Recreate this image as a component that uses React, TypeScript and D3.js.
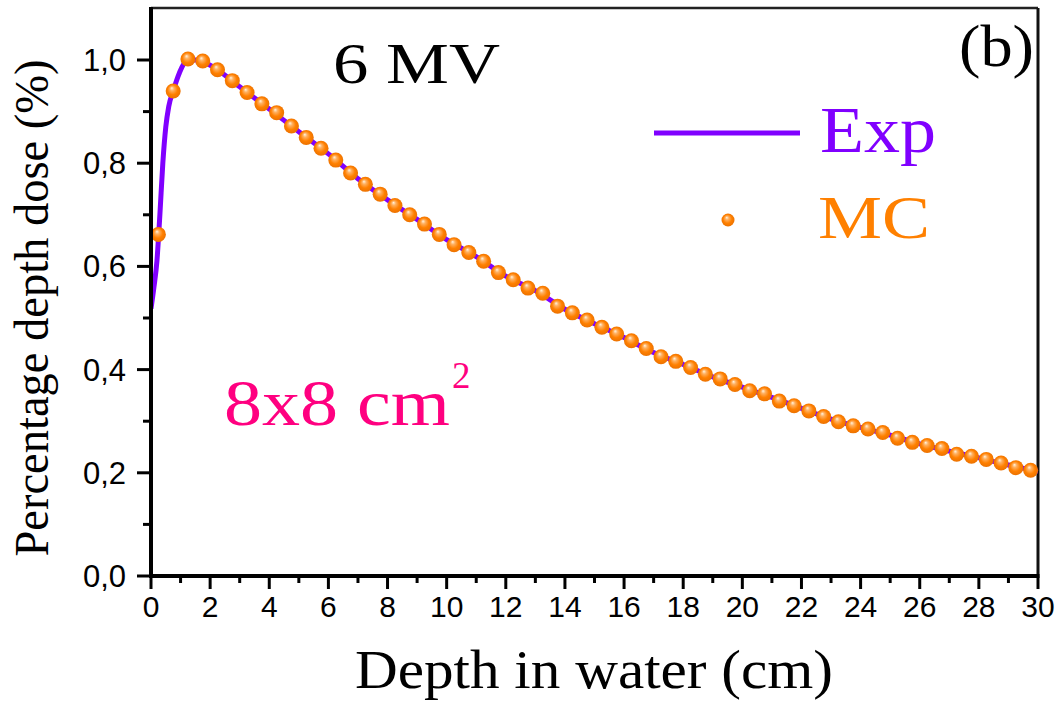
import React from "react";
import * as d3 from "d3";

// ---- data ----
const mcDepth = [0.25, 0.75, 1.25, 1.75, 2.25, 2.75, 3.25, 3.75, 4.25, 4.75, 5.25, 5.75, 6.25, 6.75, 7.25, 7.75, 8.25, 8.75, 9.25, 9.75,
  10.25, 10.75, 11.25, 11.75, 12.25, 12.75, 13.25, 13.75, 14.25, 14.75, 15.25, 15.75, 16.25, 16.75, 17.25, 17.75, 18.25, 18.75, 19.25, 19.75,
  20.25, 20.75, 21.25, 21.75, 22.25, 22.75, 23.25, 23.75, 24.25, 24.75, 25.25, 25.75, 26.25, 26.75, 27.25, 27.75, 28.25, 28.75, 29.25, 29.75];
const mcDose = [0.662, 0.940, 1.002, 0.998, 0.981, 0.960, 0.937, 0.915, 0.898, 0.872, 0.850, 0.829, 0.806, 0.781, 0.759, 0.740, 0.718, 0.700, 0.682, 0.662,
  0.642, 0.627, 0.610, 0.588, 0.574, 0.558, 0.548, 0.523, 0.510, 0.496, 0.482, 0.469, 0.456, 0.441, 0.425, 0.416, 0.404, 0.391, 0.382, 0.371,
  0.359, 0.353, 0.339, 0.330, 0.320, 0.309, 0.299, 0.291, 0.285, 0.278, 0.267, 0.259, 0.253, 0.247, 0.236, 0.232, 0.226, 0.219, 0.210, 0.205];

const expDepth = [0, 0.1, 0.2, 0.3, 0.4, 0.5, 0.6, 0.75, 0.96, 1.2, 1.5, 2, 3, 4, 5, 6, 7, 8, 9, 10, 11, 12, 13, 14, 15,
  16, 17, 18, 19, 20, 21, 22, 23, 24, 25, 26, 27, 28, 29, 30];
const expDose = [0.518, 0.56, 0.61, 0.70, 0.80, 0.87, 0.91, 0.94, 0.975, 0.998, 1.0, 0.99, 0.948, 0.905, 0.861, 0.818, 0.770, 0.729, 0.691, 0.652, 0.619, 0.581, 0.553, 0.517, 0.489,
  0.462, 0.433, 0.410, 0.386, 0.366, 0.346, 0.325, 0.304, 0.288, 0.273, 0.256, 0.242, 0.229, 0.215, 0.203];

const xMajorTicks = [0, 2, 4, 6, 8, 10, 12, 14, 16, 18, 20, 22, 24, 26, 28, 30];
const xMinorTicks = [1, 3, 5, 7, 9, 11, 13, 15, 17, 19, 21, 23, 25, 27, 29];
const yMajorTicks = [0, 0.2, 0.4, 0.6, 0.8, 1.0];
const yMinorTicks = [0.1, 0.3, 0.5, 0.7, 0.9];
const yTickLabels = ["0,0", "0,2", "0,4", "0,6", "0,8", "1,0"];

const PURPLE = "#8000ff";
const ORANGE = "#ff8000";
const PINK = "#ff0080";

export default function App() {
  const left = 151, right = 1038, top = 8, bottom = 576;
  const x = d3.scaleLinear().domain([0, 30]).range([left, right]);
  const y = d3.scaleLinear().domain([0, 1.1]).range([bottom, bottom - 1.1 * 516]);

  const expPts = expDepth.map((d, i) => [d, expDose[i]] as [number, number]);
  const line = d3.line<[number, number]>().x(d => x(d[0])).y(d => y(d[1])).curve(d3.curveMonotoneX);

  const tickFont = "'Liberation Sans', Arial, sans-serif";
  const serif = "'Liberation Serif', 'Times New Roman', serif";

  return (
    <svg width={1062} height={702} style={{ position: "absolute", left: 0, top: 0, background: "#fff" }}>
      <defs>
        <radialGradient id="ball" cx="0.5" cy="0.5" r="0.55" fx="0.4" fy="0.3">
          <stop offset="0" stopColor="#fff4e0" />
          <stop offset="0.25" stopColor="#ffb060" />
          <stop offset="0.6" stopColor={ORANGE} />
          <stop offset="1" stopColor="#e86f00" />
        </radialGradient>
        <clipPath id="plotclip">
          <rect x={left} y={top} width={right - left} height={bottom - top} />
        </clipPath>
      </defs>
      <rect x={0} y={0} width={1062} height={702} fill="#fff" />

      {/* frame top/right */}
      <line x1={left} x2={right} y1={top} y2={top} stroke="#222" strokeWidth={2.5} />
      <line x1={right} x2={right} y1={top} y2={bottom} stroke="#111" strokeWidth={3} />

      {/* exp line */}
      <path d={line(expPts) || ""} fill="none" stroke={PURPLE} strokeWidth={5} clipPath="url(#plotclip)" />

      {/* MC markers */}
      {mcDepth.map((d, i) => (
        <circle key={i} cx={x(d)} cy={y(mcDose[i])} r={7.5} fill="url(#ball)" />
      ))}

      {/* axes */}
      <line x1={left} x2={left} y1={top - 1} y2={bottom + 2} stroke="#000" strokeWidth={4} />
      <line x1={left - 2} x2={right + 1.5} y1={bottom} y2={bottom} stroke="#000" strokeWidth={4} />

      {xMajorTicks.map(t => (
        <g key={"xM" + t}>
          <line x1={x(t)} x2={x(t)} y1={bottom} y2={bottom + 13} stroke="#000" strokeWidth={3} />
          <text x={x(t)} y={617} textAnchor="middle" fontFamily={tickFont} fontSize={30}>{t}</text>
        </g>
      ))}
      {xMinorTicks.map(t => (
        <line key={"xm" + t} x1={x(t)} x2={x(t)} y1={bottom} y2={bottom + 7} stroke="#000" strokeWidth={3} />
      ))}
      {yMajorTicks.map((t, i) => (
        <g key={"yM" + t}>
          <line x1={left - 14} x2={left} y1={y(t)} y2={y(t)} stroke="#000" strokeWidth={3} />
          <text x={126} y={y(t) + 11} textAnchor="end" fontFamily={tickFont} fontSize={31}>{yTickLabels[i]}</text>
        </g>
      ))}
      {yMinorTicks.map(t => (
        <line key={"ym" + t} x1={left - 8} x2={left} y1={y(t)} y2={y(t)} stroke="#000" strokeWidth={3} />
      ))}

      {/* axis titles */}
      <text x={594} y={688} textAnchor="middle" fontFamily={serif} fontSize={54} textLength={478} lengthAdjust="spacingAndGlyphs">Depth in water (cm)</text>
      <text transform="translate(48,308) rotate(-90)" textAnchor="middle" fontFamily={serif} fontSize={49} textLength={497} lengthAdjust="spacingAndGlyphs">Percentage depth dose (%)</text>

      {/* annotations */}
      <text x={333} y={83} fontFamily={serif} fontSize={56} textLength={167} lengthAdjust="spacingAndGlyphs">6 MV</text>
      <text x={959} y={66} fontFamily={serif} fontSize={60} textLength={75} lengthAdjust="spacingAndGlyphs">(b)</text>
      <text x={224} y={425} fontFamily={serif} fontSize={66} fill={PINK} textLength={226} lengthAdjust="spacingAndGlyphs">8x8 cm</text>
      <text x={452} y={388} fontFamily={serif} fontSize={37} fill={PINK}>2</text>

      {/* legend */}
      <line x1={654} x2={800} y1={133} y2={133} stroke={PURPLE} strokeWidth={5} />
      <text x={820} y={152} fontFamily={serif} fontSize={66} fill={PURPLE} textLength={116} lengthAdjust="spacingAndGlyphs">Exp</text>
      <circle cx={728} cy={220} r={6.5} fill="url(#ball)" />
      <text x={818} y={238} fontFamily={serif} fontSize={62} fill={ORANGE} textLength={112} lengthAdjust="spacingAndGlyphs">MC</text>
    </svg>
  );
}
